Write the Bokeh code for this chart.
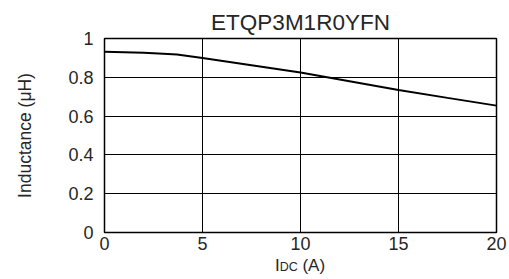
from bokeh.plotting import figure
from bokeh.models import Range1d, FixedTicker, Title, Div
from bokeh.layouts import column
from bokeh.embed import file_html
from bokeh.resources import INLINE

# Data
current_a = [0, 1, 2, 3, 3.7, 5, 7.5, 10, 12.5, 15, 17.5, 20]
inductance_uh = [0.932, 0.929, 0.926, 0.922, 0.918, 0.899, 0.862, 0.825, 0.780, 0.735, 0.694, 0.654]
x_ticks = [0, 5, 10, 15, 20]
y_ticks = [0, 0.2, 0.4, 0.6, 0.8, 1]
title_text = "ETQP3M1R0YFN"
y_label_text = "Inductance (μH)"

FONT = "Liberation Sans"
TXT = "#262626"

p = figure(width=509, height=251, output_backend="svg", toolbar_location=None,
           x_range=Range1d(0, 20), y_range=Range1d(0, 1),
           min_border_left=104, min_border_right=13, min_border_top=38, min_border_bottom=19)
p.frame_width = 392
p.frame_height = 194

p.title = Title(text=title_text, align="center", text_font=FONT, text_font_size="22.5px",
                text_font_style="normal", text_color=TXT, offset=0, standoff=7)

p.line(current_a, inductance_uh, line_color="black", line_width=2)

for ax in (p.xaxis[0], p.yaxis[0]):
    ax.axis_line_color = None
    ax.major_tick_line_color = None
    ax.minor_tick_line_color = None
    ax.major_tick_out = 0
    ax.major_tick_in = 0
    ax.minor_tick_out = 0
    ax.major_label_text_font = FONT
    ax.major_label_text_font_size = "18px"
    ax.major_label_text_color = TXT
    ax.axis_label_text_font = FONT
    ax.axis_label_text_font_style = "normal"
    ax.axis_label_text_color = TXT

p.xaxis.ticker = FixedTicker(ticks=x_ticks)
p.yaxis.ticker = FixedTicker(ticks=y_ticks)
p.xaxis.major_label_standoff = 4
p.yaxis.major_label_standoff = 11
p.yaxis.axis_label = y_label_text
p.yaxis.axis_label_text_font_size = "17.5px"
p.yaxis.axis_label_standoff = 30

p.xgrid.ticker = FixedTicker(ticks=x_ticks)
p.ygrid.ticker = FixedTicker(ticks=y_ticks)
p.xgrid.grid_line_color = "black"
p.ygrid.grid_line_color = "black"
p.xgrid.grid_line_width = 1
p.ygrid.grid_line_width = 1
p.outline_line_color = "black"
p.outline_line_width = 1.5

p.background_fill_color = "white"
p.border_fill_color = "white"

# x-axis label "I_DC (A)" with the smaller "DC"
xlabel = Div(text='I<span style="font-size:12.5px">DC</span> (A)',
             width=392, height=28, margin=(0, 0, 0, 104),
             styles={"font-family": "Liberation Sans", "font-size": "17px", "color": TXT,
                     "text-align": "center", "line-height": "20px", "padding-top": "4px",
                     "width": "392px"})

layout = column(p, xlabel, spacing=0)
open("out.html", "w").write(file_html(layout, INLINE))
